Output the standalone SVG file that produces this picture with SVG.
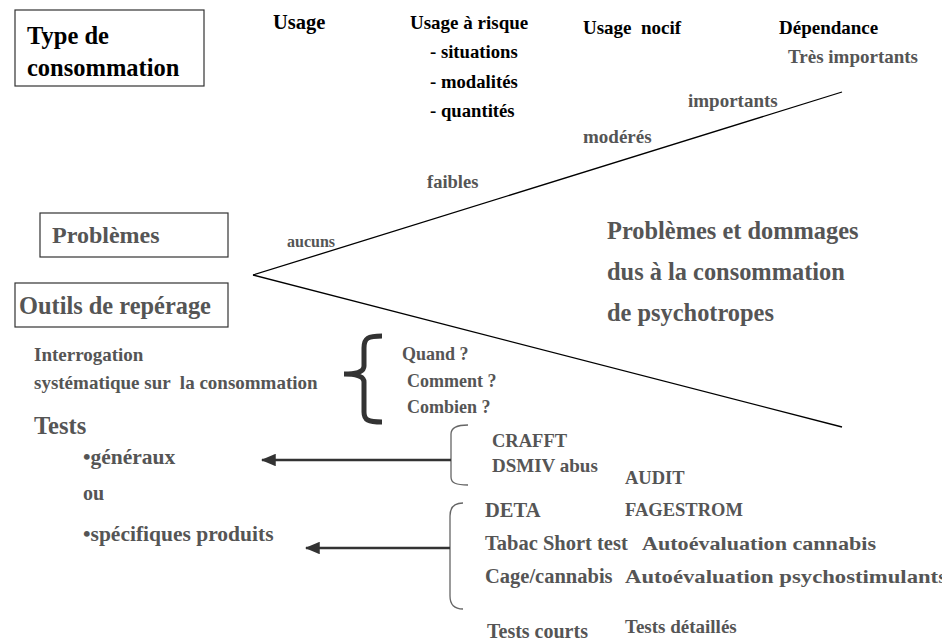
<svg xmlns="http://www.w3.org/2000/svg" width="942" height="641" viewBox="0 0 942 641">
<style>
text { font-family: "Liberation Serif", "Times New Roman", serif; font-weight: bold; }
.k { fill: #000; }
.g { fill: #555; }
.box { fill: #fff; stroke: #333; stroke-width: 1.2; }
.ln { stroke: #000; stroke-width: 1.3; fill: none; }
.br { stroke: #666; stroke-width: 1.3; fill: none; }
.arr { stroke: #333; stroke-width: 2.5; fill: none; }
</style>
<defs>
<marker id="ah" markerWidth="6" markerHeight="5" refX="5.5" refY="2.5" orient="auto" markerUnits="strokeWidth">
<path d="M0,0 L6,2.5 L0,5 Z" fill="#333"/>
</marker>
</defs>
<rect width="942" height="641" fill="#fff"/>

<g id="type-consommation">
<rect class="box" x="15" y="10" width="189" height="76"/>
<text class="k" x="27" y="44" font-size="24.5">Type de</text>
<text class="k" x="27" y="76" font-size="24.5">consommation</text>
</g>

<g id="usage"><text class="k" x="273" y="29" font-size="20.5">Usage</text></g>
<g id="usage-risque">
<text class="k" x="410" y="29" font-size="19">Usage à risque</text>
<text class="k" x="430" y="58" font-size="18.7">- situations</text>
<text class="k" x="430" y="88" font-size="18.7">- modalités</text>
<text class="k" x="430" y="117" font-size="18.7">- quantités</text>
</g>
<g id="usage-nocif"><text class="k" x="583" y="34" font-size="19" xml:space="preserve">Usage  nocif</text></g>
<g id="dependance"><text class="k" x="779" y="34" font-size="19">Dépendance</text></g>

<g id="niveaux">
<text class="g" x="788" y="63" font-size="19">Très importants</text>
<text class="g" x="688" y="107" font-size="19">importants</text>
<text class="g" x="583" y="143" font-size="19">modérés</text>
<text class="g" x="427" y="188" font-size="18.5">faibles</text>
<text class="g" x="287" y="247" font-size="16">aucuns</text>
</g>

<g id="problemes">
<rect class="box" x="40" y="213" width="188" height="44"/>
<text class="g" x="52" y="243" font-size="24">Problèmes</text>
</g>

<g id="outils">
<rect class="box" x="15" y="283" width="213" height="44"/>
<text class="g" x="19" y="314" font-size="24.4">Outils de repérage</text>
</g>

<g id="dommages">
<text class="g" x="607" y="239" font-size="24.4">Problèmes et dommages</text>
<text class="g" x="607" y="280" font-size="24.4">dus à la consommation</text>
<text class="g" x="607" y="321" font-size="24.4">de psychotropes</text>
</g>

<g id="interrogation">
<text class="g" x="34" y="361" font-size="19">Interrogation</text>
<text class="g" x="34" y="389" font-size="19" xml:space="preserve">systématique sur  la consommation</text>
</g>

<g id="questions">
<path d="M382,336 C368,336 364,338 364,348 L364,366 C364,372 356,374 344,374 C356,374 364,376 364,382 L364,412 C364,420 368,422 382,422" stroke="#333" stroke-width="5" fill="none"/>
<text class="g" x="402" y="360" font-size="18">Quand ?</text>
<text class="g" x="407" y="387" font-size="18">Comment ?</text>
<text class="g" x="407" y="413" font-size="18">Combien ?</text>
</g>

<g id="tests">
<text class="g" x="34" y="434" font-size="24.5">Tests</text>
<text class="g" x="83" y="464" font-size="21.5">•généraux</text>
<text class="g" x="83" y="500" font-size="20">ou</text>
<text class="g" x="83" y="541" font-size="21.5">•spécifiques produits</text>
</g>

<g id="tests-generaux">
<path class="br" d="M468,425 C456,425 451,428 451,434 L451,477 C451,483 456,485 468,485"/>
<text class="g" x="492" y="447" font-size="18.5">CRAFFT</text>
<text class="g" x="492" y="472" font-size="19">DSMIV abus</text>
</g>

<g id="tests-courts">
<path class="br" d="M463,503 C454,503 450,508 450,516 L450,596 C450,604 454,609 463,609"/>
<text class="g" x="485" y="517" font-size="20.5">DETA</text>
<text class="g" x="485" y="550" font-size="20.5">Tabac Short test</text>
<text class="g" x="485" y="583" font-size="20.5">Cage/cannabis</text>
<text class="g" x="487" y="638" font-size="20">Tests courts</text>
</g>

<g id="tests-detailles">
<text class="g" x="625" y="484" font-size="18.5">AUDIT</text>
<text class="g" x="625" y="516" font-size="18.5">FAGESTROM</text>
<text class="g" x="642" y="550" font-size="19" textLength="234" lengthAdjust="spacingAndGlyphs">Autoévaluation cannabis</text>
<text class="g" x="625" y="583" font-size="19" textLength="322" lengthAdjust="spacingAndGlyphs">Autoévaluation psychostimulants</text>
<text class="g" x="625" y="633" font-size="19">Tests détaillés</text>
</g>

<g id="connectors">
<line class="ln" x1="253" y1="275" x2="842" y2="92"/>
<line class="ln" x1="253" y1="275" x2="842" y2="427"/>
<line class="arr" x1="451" y1="460" x2="262" y2="460" marker-end="url(#ah)"/>
<line class="arr" x1="450" y1="548" x2="306" y2="548" marker-end="url(#ah)"/>
</g>
</svg>
